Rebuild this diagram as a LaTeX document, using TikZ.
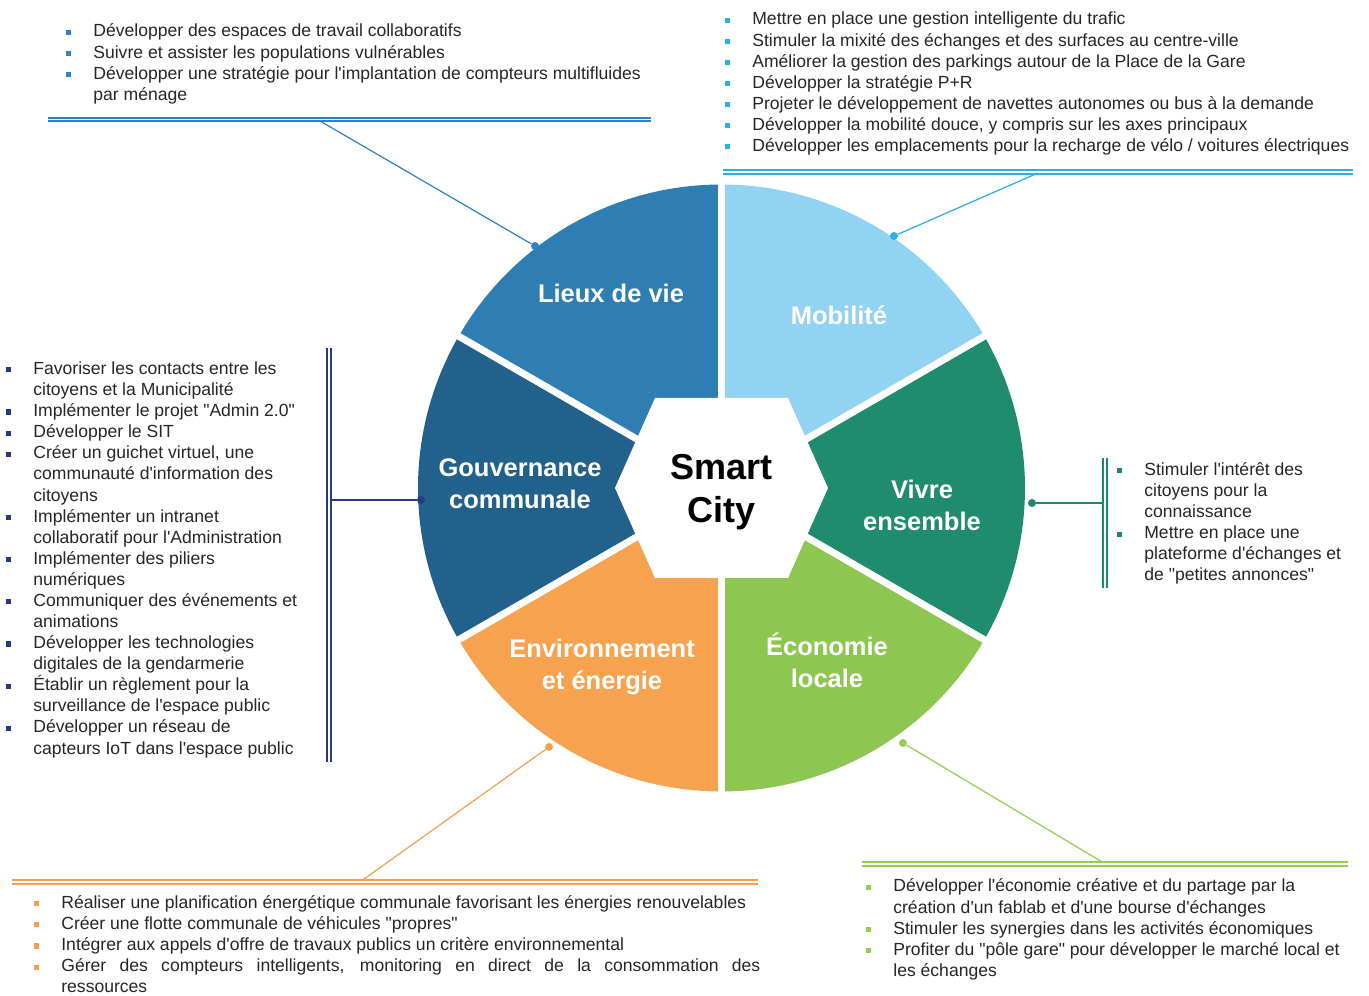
\documentclass[tikz,border=0pt]{standalone}
\usepackage{fontspec}
\setmainfont{Liberation Sans}[Ligatures=TeXOff]

\definecolor{lieux}{RGB}{46,126,180}
\definecolor{mobil}{RGB}{146,211,243}
\definecolor{vivre}{RGB}{31,140,110}
\definecolor{econ}{RGB}{141,198,80}
\definecolor{envir}{RGB}{246,162,78}
\definecolor{gouv}{RGB}{34,97,140}

\definecolor{lieuxL}{RGB}{46,130,200}
\definecolor{mobilL}{RGB}{41,176,230}
\definecolor{vivreL}{RGB}{27,140,105}
\definecolor{econL}{RGB}{146,208,80}
\definecolor{envirL}{RGB}{245,160,80}
\definecolor{gouvL}{RGB}{38,58,130}

\newcommand\bitem[2]{\par\noindent\hangindent=0.54cm\hangafter=1\makebox[0.54cm][l]{\textcolor{#1}{\rule[1.2pt]{2.9pt}{2.9pt}}}#2}

\begin{document}
\begin{tikzpicture}[
  spot/.style={circle, fill=#1, inner sep=0pt, minimum size=0.16cm},
  twin/.style={draw=#1, double=white, double distance=1.1pt, line width=0.9pt},
  link/.style={draw=#1, line width=0.7pt},
  lbl/.style={text=white, align=center, font=\bfseries\fontsize{14.5}{18.1}\selectfont},
  lst/.style={anchor=base west, inner sep=0pt, text=black!85, font=\fontsize{10}{12}\selectfont}
]

\useasboundingbox (0,0) rectangle (27.38,19.92);

\coordinate (c) at (14.43,10.16);

\foreach \a/\col in {90/lieux,30/mobil,-30/vivre,-90/econ,210/envir,150/gouv}
  \fill[\col] (c) -- ++(\a:6.07) arc (\a:\a+60:6.07) -- cycle;

\foreach \a in {30,90,...,330}
  \draw[white, line width=0.14cm] (c) -- ++(\a:6.3);

\fill[white] (c) ++(-2.13,0) -- ++(0.8,1.8) -- ++(2.66,0) -- ++(0.8,-1.8) -- ++(-0.8,-1.8) -- ++(-2.66,0) -- cycle;

\node[font=\bfseries\fontsize{20.5}{24.4}\selectfont, align=center] (smart) at (14.43,10.08) {Smart\\City};

\node[lbl] (lLieux) at (12.22,14.06) {Lieux de vie};
\node[lbl] (lMobil) at (16.78,13.62) {Mobilité};
\node[lbl] (lGouv) at (10.40,10.24) {Gouvernance\\communale};
\node[lbl] (lVivre) at (18.44,9.82) {Vivre\\ensemble};
\node[lbl] (lEnvir) at (12.04,6.58) {Environnement\\et énergie};
\node[lbl] (lEcon) at (16.54,6.72) {Économie\\locale};

\node[spot=lieuxL] (dLieux) at (10.70,15.00) {};
\node[spot=mobilL] (dMobil) at (17.88,15.20) {};
\node[spot=gouvL] (dGouv) at (8.42,9.92) {};
\node[spot=vivreL] (dVivre) at (20.64,9.86) {};
\node[spot=envirL] (dEnvir) at (10.98,4.98) {};
\node[spot=econL] (dEcon) at (18.06,5.06) {};

\draw[twin=lieuxL] (0.96,17.53) -- (13.02,17.53);
\draw[twin=mobilL] (14.46,16.48) -- (27.06,16.48);
\draw[twin=gouvL] (6.58,12.96) -- (6.58,4.68);
\draw[twin=vivreL] (22.10,10.76) -- (22.10,8.16);
\draw[twin=envirL] (0.24,2.28) -- (15.16,2.28);
\draw[twin=econL] (17.24,2.64) -- (26.96,2.64);

\coordinate (bLieux) at (6.40,17.50);
\coordinate (bMobil) at (20.76,16.46);
\coordinate (bGouv) at (6.62,9.92);
\coordinate (bVivre) at (22.06,9.86);
\coordinate (bEnvir) at (7.24,2.31);
\coordinate (bEcon) at (22.06,2.67);

\draw[link=lieuxL] (bLieux) -- (dLieux);
\draw[link=mobilL] (bMobil) -- (dMobil);
\draw[link=gouvL] (bGouv) -- (dGouv);
\draw[link=vivreL] (bVivre) -- (dVivre);
\draw[link=envirL] (bEnvir) -- (dEnvir);
\draw[link=econL] (bEcon) -- (dEcon);

\node[lst] (tLieux) at (1.32,19.18) {\parbox[t]{13cm}{
\bitem{lieuxL}{Développer des espaces de travail collaboratifs}
\bitem{lieuxL}{Suivre et assister les populations vulnérables}
\bitem{lieuxL}{Développer une stratégie pour l'implantation de compteurs multifluides\newline par ménage}}};

\node[lst] (tMobil) at (14.50,19.42) {\parbox[t]{13cm}{
\bitem{mobilL}{Mettre en place une gestion intelligente du trafic}
\bitem{mobilL}{Stimuler la mixité des échanges et des surfaces au centre-ville}
\bitem{mobilL}{Améliorer la gestion des parkings autour de la Place de la Gare}
\bitem{mobilL}{Développer la stratégie P+R}
\bitem{mobilL}{Projeter le développement de navettes autonomes ou bus à la demande}
\bitem{mobilL}{Développer la mobilité douce, y compris sur les axes principaux}
\bitem{mobilL}{Développer les emplacements pour la recharge de vélo / voitures électriques}}};

\node[lst] (tGouv) at (0.12,12.43) {\parbox[t]{6.3cm}{
\bitem{gouvL}{Favoriser les contacts entre les\newline citoyens et la Municipalité}
\bitem{gouvL}{Implémenter le projet "Admin 2.0"}
\bitem{gouvL}{Développer le SIT}
\bitem{gouvL}{Créer un guichet virtuel, une\newline communauté d'information des\newline citoyens}
\bitem{gouvL}{Implémenter un intranet\newline collaboratif pour l'Administration}
\bitem{gouvL}{Implémenter des piliers\newline numériques}
\bitem{gouvL}{Communiquer des événements et\newline animations}
\bitem{gouvL}{Développer les technologies\newline digitales de la gendarmerie}
\bitem{gouvL}{Établir un règlement pour la\newline surveillance de l'espace public}
\bitem{gouvL}{Développer un réseau de\newline capteurs IoT dans l'espace public}}};

\node[lst] (tVivre) at (22.34,10.41) {\parbox[t]{5cm}{
\bitem{vivreL}{Stimuler l'intérêt des\newline citoyens pour la\newline connaissance}
\bitem{vivreL}{Mettre en place une\newline plateforme d'échanges et\newline de "petites annonces"}}};

\node[lst] (tEnvir) at (0.68,1.75) {\parbox[t]{14.52cm}{
\bitem{envirL}{Réaliser une planification énergétique communale favorisant les énergies renouvelables}
\bitem{envirL}{Créer une flotte communale de véhicules "propres"}
\bitem{envirL}{Intégrer aux appels d'offre de travaux publics un critère environnemental}
\bitem{envirL}{Gérer des compteurs intelligents, monitoring en direct de la consommation des\linebreak ressources}}};

\node[lst] (tEcon) at (17.32,2.08) {\parbox[t]{10cm}{
\bitem{econL}{Développer l'économie créative et du partage par la\newline création d'un fablab et d'une bourse d'échanges}
\bitem{econL}{Stimuler les synergies dans les activités économiques}
\bitem{econL}{Profiter du "pôle gare" pour développer le marché local et\newline les échanges}}};

\end{tikzpicture}
\end{document}
